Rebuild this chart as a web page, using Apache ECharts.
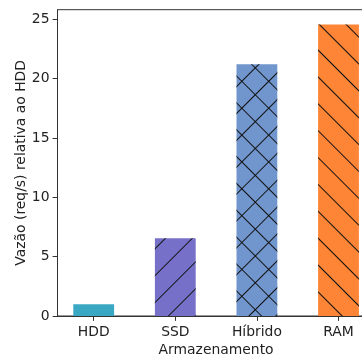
<!DOCTYPE html>
<html><head><meta charset="utf-8">
<script src="https://cdn.jsdelivr.net/npm/echarts@6/dist/echarts.min.js"></script>
<style>html,body{margin:0;padding:0;background:#fff}#c{width:362px;height:356px}</style>
</head><body><div id="c"></div>
<script>
const categories = ['HDD', 'SSD', 'Híbrido', 'RAM'];
const values = [1.0, 6.55, 21.2, 24.55];
const yTicks = [0, 5, 10, 15, 20, 25];
const xTicks = [0, 1, 2, 3];

const colors = ['#3aa7c3', '#7770c8', '#7196ce', '#fd8535'];
const hatchColor = '#111';
const decals = [
  null,
  {symbol: 'rect', symbolSize: 1, color: hatchColor, dashArrayX: [1, 0], dashArrayY: [1, 18], rotation: -Math.PI / 4},
  {symbol: 'rect', symbolSize: 1, color: hatchColor, dashArrayX: [[1, 0], [1, 18]], dashArrayY: [1, 0, 18, 0], rotation: Math.PI / 4},
  {symbol: 'rect', symbolSize: 1, color: hatchColor, dashArrayX: [1, 0], dashArrayY: [1, 18], rotation: Math.PI / 4}
];

const FONT = 'DejaVu Sans';
const txt = '#222';
const axisCol = '#333';

const data = values.map((v, i) => {
  const item = {value: [i, v], itemStyle: {color: colors[i]}};
  if (decals[i]) item.itemStyle.decal = decals[i];
  return item;
});

const chart = echarts.init(document.getElementById('c'), null, {renderer: 'canvas'});
chart.setOption({
  animation: false,
  backgroundColor: '#fff',
  grid: {left: 57.5, width: 317.2, top: 9.7, height: 306.3, show: true, borderColor: axisCol, borderWidth: 1,
    containLabel: false, outerBoundsMode: 'none'},
  xAxis: {
    type: 'value', min: -0.4436, max: 3.4436,
    name: 'Armazenamento', nameLocation: 'middle', nameGap: 27, nameMoveOverlap: false,
    nameTextStyle: {fontFamily: FONT, fontSize: 13.9, color: txt},
    axisLine: {show: true, onZero: false, lineStyle: {color: axisCol, width: 1}},
    axisTick: {show: true, length: 4.9, customValues: xTicks, lineStyle: {color: axisCol}},
    axisLabel: {customValues: xTicks, formatter: v => categories[Math.round(v)], margin: 9,
      fontFamily: FONT, fontSize: 13.9, color: txt},
    splitLine: {show: false}
  },
  yAxis: {
    type: 'value', min: 0, max: 25.8,
    name: 'Vazão (req/s) relativa ao HDD', nameLocation: 'middle', nameGap: 29, nameRotate: 90,
    nameMoveOverlap: false,
    nameTextStyle: {fontFamily: FONT, fontSize: 13.9, color: txt},
    axisLine: {show: true, onZero: false, lineStyle: {color: axisCol, width: 1}},
    axisTick: {show: true, length: 4.9, customValues: yTicks, lineStyle: {color: axisCol}},
    axisLabel: {customValues: yTicks, margin: 8, fontFamily: FONT, fontSize: 13.9, color: txt},
    splitLine: {show: false}
  },
  series: [{
    type: 'bar',
    barWidth: 40.8,
    data: data
  }]
});
</script></body></html>
